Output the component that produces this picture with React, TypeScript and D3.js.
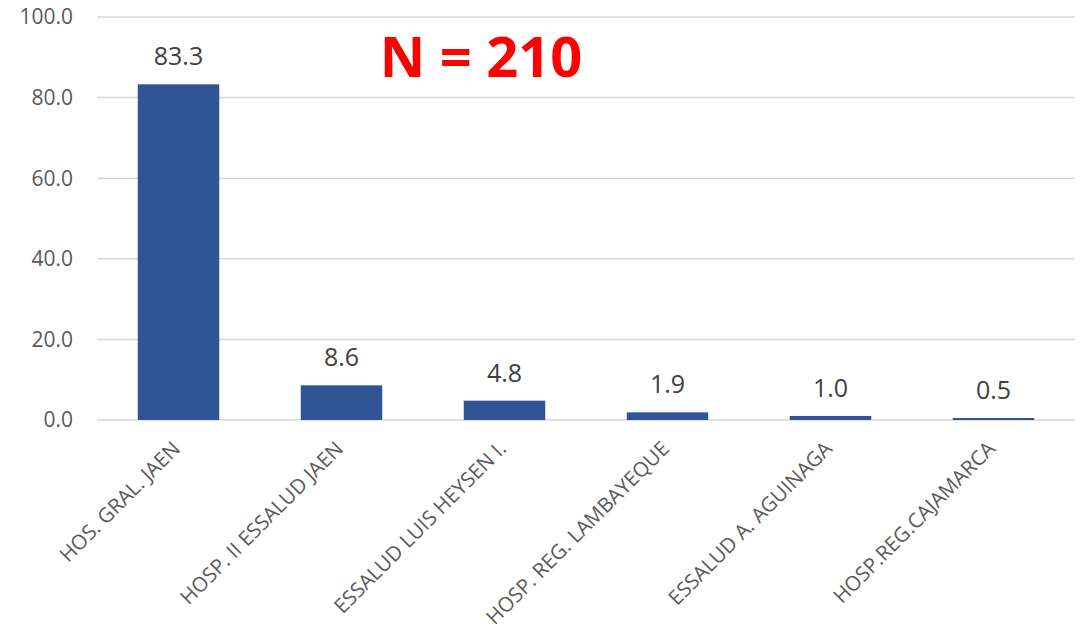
import React, { useEffect, useRef } from 'react';
import * as d3 from 'd3';

const categories = [
  'HOS. GRAL. JAEN',
  'HOSP. II ESSALUD JAEN',
  'ESSALUD LUIS HEYSEN I.',
  'HOSP. REG. LAMBAYEQUE',
  'ESSALUD A. AGUINAGA',
  'HOSP.REG.CAJAMARCA',
];
const values = [83.3, 8.6, 4.8, 1.9, 1.0, 0.5];
const yTicks = [0, 20, 40, 60, 80, 100];
const annotation = 'N = 210';

const App: React.FC = () => {
  const ref = useRef<SVGSVGElement>(null);

  useEffect(() => {
    if (!ref.current) return;
    const svg = d3.select(ref.current);
    svg.selectAll('*').remove();

    const width = 1084;
    const height = 632;
    const margin = { top: 17, right: 9, bottom: 212, left: 97 };
    const w = width - margin.left - margin.right;
    const h = height - margin.top - margin.bottom;
    const font = '"Open Sans", "DejaVu Sans", sans-serif';

    const g = svg.append('g').attr('transform', `translate(${margin.left},${margin.top})`);

    const x = d3.scaleBand().domain(categories).range([0, w]).paddingInner(0.5).paddingOuter(0.25);
    const y = d3.scaleLinear().domain([0, 100]).range([h, 0]);

    // gridlines
    g.append('g')
      .selectAll('line')
      .data(yTicks)
      .enter()
      .append('line')
      .attr('x1', 0)
      .attr('x2', w)
      .attr('y1', d => y(d))
      .attr('y2', d => y(d))
      .attr('stroke', '#d9d9d9')
      .attr('stroke-width', 1.5);

    // y tick labels
    g.append('g')
      .selectAll('text')
      .data(yTicks)
      .enter()
      .append('text')
      .attr('x', -24)
      .attr('y', d => y(d))
      .attr('dy', '0.35em')
      .attr('text-anchor', 'end')
      .attr('fill', '#595959')
      .style('font-family', font)
      .style('font-size', '21px')
      .text(d => d.toFixed(1));

    // bars
    g.selectAll('rect')
      .data(values)
      .enter()
      .append('rect')
      .attr('x', (_, i) => x(categories[i]) as number)
      .attr('y', d => y(d))
      .attr('width', x.bandwidth())
      .attr('height', d => h - y(d))
      .attr('fill', '#2f5597');

    // value labels
    g.append('g')
      .selectAll('text')
      .data(values)
      .enter()
      .append('text')
      .attr('x', (_, i) => (x(categories[i]) as number) + x.bandwidth() / 2)
      .attr('y', d => y(d) - 19)
      .attr('text-anchor', 'middle')
      .attr('fill', '#404040')
      .style('font-family', font)
      .style('font-size', '25px')
      .text(d => d.toFixed(1));

    // category labels
    g.append('g')
      .selectAll('text')
      .data(categories)
      .enter()
      .append('text')
      .attr('transform', d => `translate(${(x(d) as number) + x.bandwidth() / 2 + 3},${h + 30}) rotate(-45)`)
      .attr('text-anchor', 'end')
      .attr('fill', '#595959')
      .style('font-family', font)
      .style('font-size', '20.5px')
      .text(d => d);

    // N annotation
    svg.append('text')
      .attr('x', 481)
      .attr('y', 77)
      .attr('text-anchor', 'middle')
      .attr('fill', '#ff0000')
      .style('font-family', font)
      .style('font-weight', 'bold')
      .style('font-size', '56px')
      .text(annotation);
  }, []);

  return <svg ref={ref} width={1084} height={632} style={{ display: 'block', margin: '-8px' }} />;
};

export default App;
